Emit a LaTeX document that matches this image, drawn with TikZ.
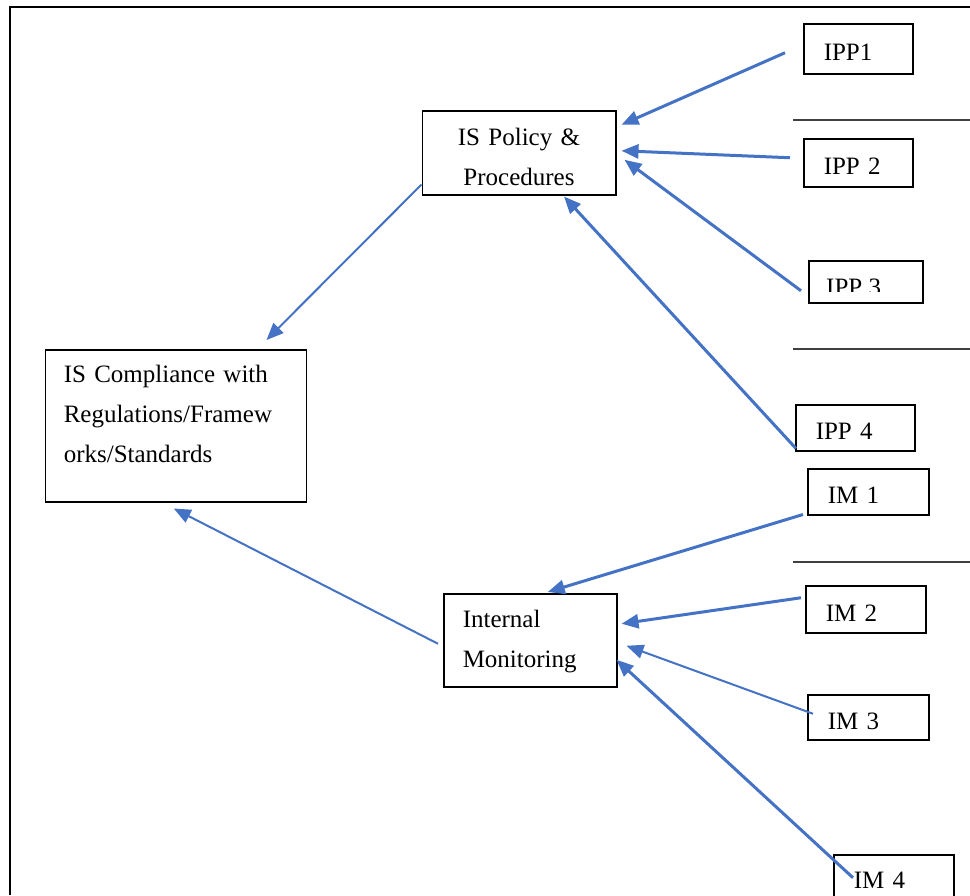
\documentclass[tikz,border=0pt]{standalone}
\usepackage{fontspec}
\setmainfont{Liberation Serif}
\usetikzlibrary{arrows.meta}
\definecolor{wordblue}{RGB}{68,114,196}
\newcommand{\lnk}[5]{\draw[flow,#5] ([shift={(#2)}]#1) -- ([shift={(#4)}]#3); }

\begin{document}
\begin{tikzpicture}[x=1pt,y=-1pt,
  every node/.style={font=\fontsize{25}{40}\selectfont},
  box/.style={draw=black,line width=1.5pt,anchor=north west,inner ysep=0pt},
  item/.style 2 args={box,align=left,inner xsep=20pt,text width=#1pt,minimum height=#2pt,text height=26pt,text depth=2pt},
  flow/.style={wordblue,line width=3pt,-{Triangle[length=17pt,width=14pt]}},
  lean/.style={line width=2pt},
  sep/.style={black!75,line width=1.2pt}]
  \clip (0,0) rectangle (970,895);
  \draw[black,line width=2.2pt] (10,895) -- (10,7) -- (970,7);
  \foreach \y in {120,349,562} \draw[sep] (793,\y) -- (970,\y);

  \node[box,align=center,text width=160pt,minimum width=193.5pt,minimum height=84pt,text height=17pt,text depth=31pt] (pol) at (421.5,110) {IS Policy \&\\Procedures};
  \node[box,align=left,inner xsep=18.5pt,text width=224pt,minimum height=152pt,text height=17pt,text depth=103pt] (comp) at (44.5,349) {IS Compliance with\\Regulations/Framew\\orks/Standards};
  \node[box,align=left,inner xsep=19pt,text width=135pt,minimum height=93pt,text height=20pt,text depth=45pt] (mon) at (443,593) {Internal\\Monitoring};

  \node[item={69}{50}] (ipp1) at (803,23) {IPP1};
  \node[item={69}{48}] (ipp2) at (803,138) {IPP 2};
  \node[item={74}{42}] (ipp3) at (808,260) {};
  \node[item={79}{46}] (ipp4) at (795,404) {IPP 4};
  \node[item={81}{46}] (im1) at (807,468) {IM 1};
  \node[item={80}{47}] (im2) at (805,585) {IM 2};
  \node[item={81}{45}] (im3) at (807,694) {IM 3};
  \node[item={80}{44}] (im4) at (833,854) {IM 4};
  \begin{scope}
    \clip (ipp3.north west) rectangle ([yshift=12pt]ipp3.south east);
    \node[anchor=base west,inner sep=0pt] (ipp3txt) at ([shift={(18,14)}]ipp3.west) {IPP 3};
  \end{scope}

  \lnk{ipp1.west}{-18,4}{pol.east}{5,-28}{}
  \lnk{ipp2.west}{-13,-5}{pol.east}{5,-2}{}
  \lnk{ipp3.west}{-7,9}{pol.east}{8,7}{}
  \lnk{ipp4.south west}{1,-3}{pol.south}{45,1}{}
  \lnk{pol.south west}{0,-11}{comp.north east}{-40.5,-9}{lean}
  \lnk{im1.south west}{-4,-1}{mon.north}{17.5,-1}{}
  \lnk{im2.west}{-4,-11.5}{mon.east}{4,-16.5}{}
  \lnk{im3.west}{6,-3.5}{mon.east}{9,5.5}{lean}
  \lnk{im4.west}{20,1}{mon.east}{-1,19.5}{}
  \lnk{mon.west}{-5,3.5}{comp.south}{-2,6}{lean}
\end{tikzpicture}
\end{document}
